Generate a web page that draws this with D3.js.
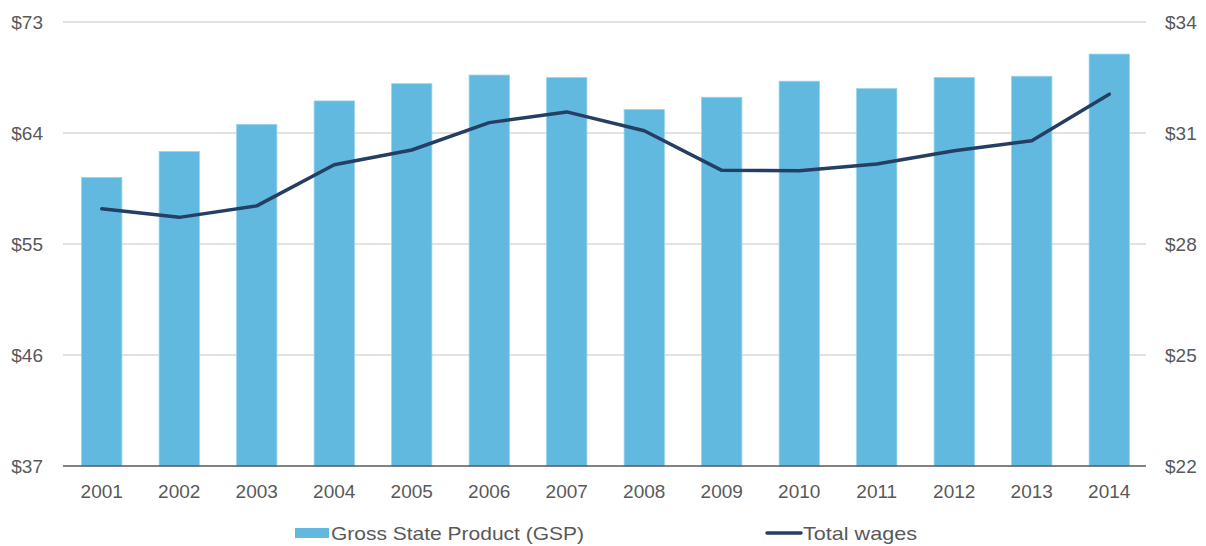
<!DOCTYPE html>
<html>
<head>
<meta charset="utf-8">
<script src="https://cdn.jsdelivr.net/npm/d3@7"></script>
<style>
  html, body { margin: 0; padding: 0; background: #ffffff; }
  svg { display: block; }
  text { font-family: "Liberation Sans", Arial, sans-serif; fill: #595959; }
</style>
</head>
<body>
<svg id="chart" width="1206" height="546"></svg>
<script>
// Years along the bottom axis
const years = ["2001","2002","2003","2004","2005","2006","2007","2008","2009","2010","2011","2012","2013","2014"];
// Gross State Product, left axis ($)
const gsp = [60.4, 62.5, 64.7, 66.6, 68.0, 68.7, 68.5, 65.9, 66.9, 68.2, 67.6, 68.5, 68.6, 70.4];
// Total wages, right axis ($)
const wages = [28.95, 28.72, 29.03, 30.14, 30.54, 31.28, 31.57, 31.06, 29.99, 29.98, 30.16, 30.52, 30.79, 32.05];
// Tick labels for the two value axes
const leftTicks = [37, 46, 55, 64, 73];
const rightTicks = [22, 25, 28, 31, 34];
const seriesNames = ["Gross State Product (GSP)", "Total wages"];

const svg = d3.select("#chart");
const m = { left: 63, right: 1148, top: 22, bottom: 466 };

const x = d3.scaleBand().domain(years).range([m.left, m.right])
  .paddingInner(0.48).paddingOuter(0.24);
const yL = d3.scaleLinear().domain([37, 73]).range([m.bottom, m.top]);
const yR = d3.scaleLinear().domain([22, 34]).range([m.bottom, m.top]);

// Horizontal gridlines
svg.append("g")
  .selectAll("line").data(leftTicks.slice(1)).join("line")
  .attr("x1", m.left).attr("x2", m.right - 2)
  .attr("y1", d => yL(d)).attr("y2", d => yL(d))
  .attr("stroke", "#d9d9d9").attr("stroke-width", 1.3);

// Left axis
const leftAxis = svg.append("g")
  .attr("transform", `translate(${m.left - 20},0)`)
  .call(d3.axisLeft(yL).tickValues(leftTicks).tickFormat(d => "$" + d).tickSize(0).tickPadding(0));
leftAxis.select(".domain").remove();
leftAxis.selectAll("text").attr("font-size", 19).attr("font-family", null).attr("fill", "#595959");

// Right axis
const rightAxis = svg.append("g")
  .attr("transform", `translate(${m.right + 17},0)`)
  .call(d3.axisRight(yR).tickValues(rightTicks).tickFormat(d => "$" + d).tickSize(0).tickPadding(0));
rightAxis.select(".domain").remove();
rightAxis.selectAll("text").attr("font-size", 19).attr("font-family", null).attr("fill", "#595959");

// Bars
svg.append("g")
  .selectAll("rect").data(years).join("rect")
  .attr("x", d => x(d))
  .attr("y", (d, i) => yL(gsp[i]))
  .attr("width", x.bandwidth())
  .attr("height", (d, i) => yL(37) - yL(gsp[i]))
  .attr("fill", "#62b9df")
  .attr("stroke", "#9ad3ee").attr("stroke-width", 0.8);

// Bottom axis
const bottomAxis = svg.append("g")
  .attr("transform", `translate(0,${m.bottom})`)
  .call(d3.axisBottom(x).tickSize(0).tickPadding(19));
bottomAxis.select(".domain").attr("stroke", "#595959").attr("stroke-width", 1.5)
  .attr("d", `M${m.left},0H${m.right - 2}`);
bottomAxis.selectAll("text").attr("font-size", 19).attr("font-family", null).attr("fill", "#595959");

// Wages line
const line = d3.line()
  .x((d, i) => x(years[i]) + x.bandwidth() / 2)
  .y(d => yR(d));
svg.append("path")
  .datum(wages)
  .attr("d", line)
  .attr("fill", "none")
  .attr("stroke", "#243f63")
  .attr("stroke-width", 3.5)
  .attr("stroke-linejoin", "round")
  .attr("stroke-linecap", "round");

// Legend
const lg = svg.append("g");
lg.append("rect").attr("x", 295).attr("y", 528).attr("width", 34).attr("height", 10).attr("fill", "#62b9df");
lg.append("text").attr("x", 331).attr("y", 540).attr("font-size", 19)
  .attr("textLength", 253).attr("lengthAdjust", "spacingAndGlyphs").text(seriesNames[0]);
lg.append("line").attr("x1", 767).attr("x2", 801).attr("y1", 533).attr("y2", 533)
  .attr("stroke", "#243f63").attr("stroke-width", 3.5).attr("stroke-linecap", "round");
lg.append("text").attr("x", 803).attr("y", 540).attr("font-size", 19)
  .attr("textLength", 114).attr("lengthAdjust", "spacingAndGlyphs").text(seriesNames[1]);
</script>
</body>
</html>
